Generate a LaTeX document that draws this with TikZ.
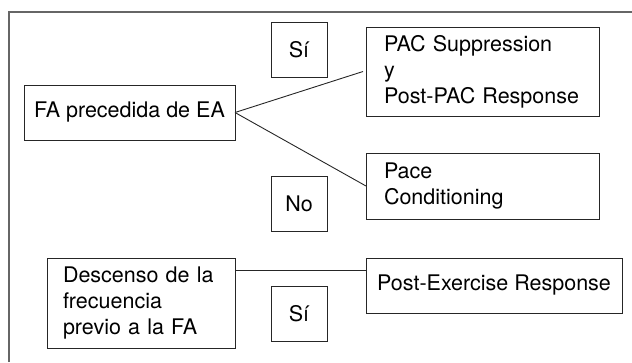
\documentclass[tikz,border=0pt]{standalone}
\usepackage{fontspec}
\setmainfont{TeX Gyre Heros}
\begin{document}
\begin{tikzpicture}[x=1pt,y=-1pt,
  box/.style={draw=black!85, line width=0.9pt, inner sep=0pt, outer sep=0pt, font=\fontsize{21.5}{26}\selectfont},
  ans/.style={box, minimum width=56pt, minimum height=55pt, align=center},
  link/.style={draw=black!85, line width=0.9pt}]
\useasboundingbox (0,0) rectangle (632,362);
\draw[black!60, line width=1.3pt] (9,362) -- (9,12) -- (632,12);
\node[box, minimum width=211pt, minimum height=55pt, align=center] (fa) at (129.5,112.5) {FA precedida de EA};
\node[box, minimum width=233pt, minimum height=89pt, text width=197pt, inner xsep=18pt, align=left] (pac) at (482.5,71.5) {PAC Suppression\\y\\Post-PAC Response};
\node[box, minimum width=233pt, minimum height=66pt, text width=197pt, inner xsep=18pt, align=left] (pace) at (482.5,186) {Pace\\Conditioning};
\node[ans] (si1) at (299,49.5) {Sí};
\node[ans] (no) at (299,203.5) {No};
\node[box, minimum width=188pt, minimum height=90pt, text width=156pt, inner xsep=16pt, align=left] (desc) at (141,303) {Descenso de la\\frecuencia\\previo a la FA};
\node[box, minimum width=256pt, minimum height=55pt, align=center] (post) at (494,285.5) {Post-Exercise Response};
\node[ans] (si2) at (299,313.5) {Sí};
\coordinate (c1) at (desc.north east |- 0,270.5);
\coordinate (c2) at (post.north west |- 0,270.5);
\draw[link] (fa.east) -- ([xshift=-3pt]pac.west);
\draw[link] (fa.east) -- (pace.west);
\draw[link] (c1) -- (c2);
\end{tikzpicture}
\end{document}
